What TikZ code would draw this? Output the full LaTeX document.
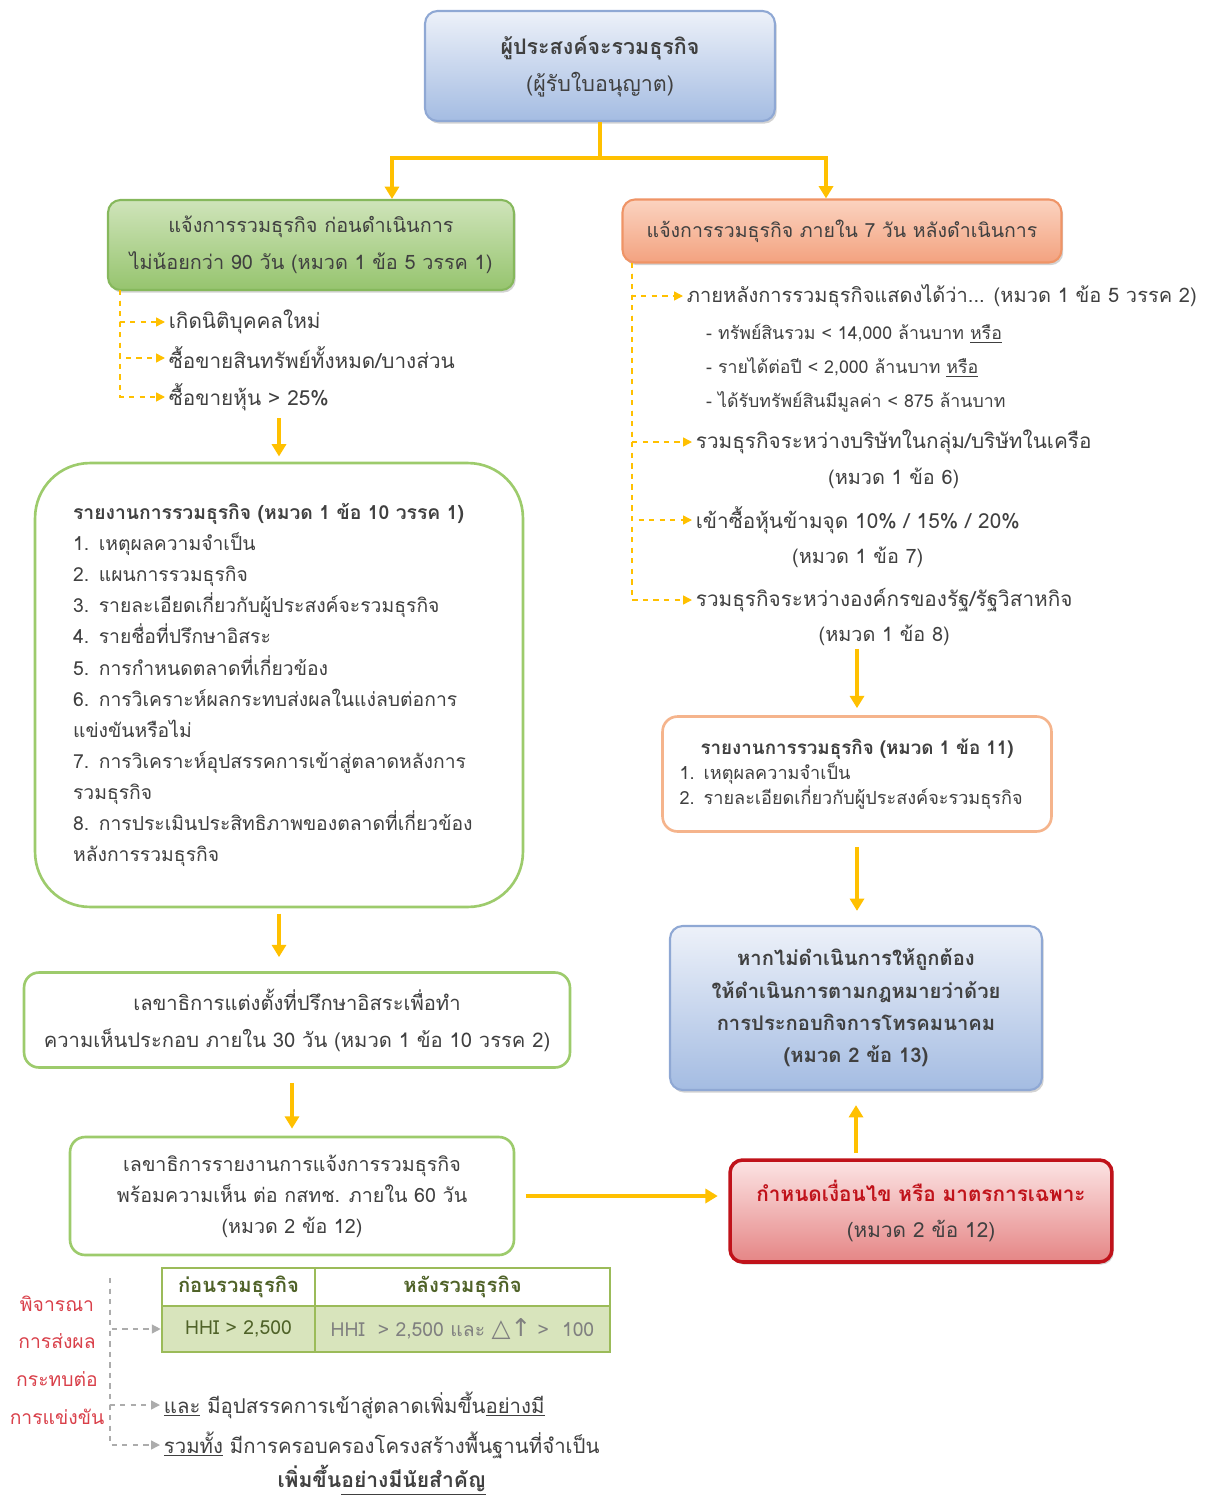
\documentclass[tikz,border=0pt]{standalone}
\usepackage{fontspec}
\setmainfont[Script=Thai]{Loma}
\newfontfamily\symfont{DejaVu Sans}
\usetikzlibrary{arrows.meta,shadows,calc}

\begin{document}
\begin{tikzpicture}[x=0.02cm,y=-0.02cm,
  every node/.style={text=txt,font=\fontsize{11.3}{18}\selectfont},
  flow/.style={draw=gold,line width=2.2pt,-{Triangle[length=7pt,width=8pt]}},
  dasharrow/.style={draw=gold,line width=0.8pt,dashed,-{Triangle[length=5pt,width=5pt]}},
  grayarrow/.style={dasharrow,draw=gray!65},
  shadedbox/.style={rounded corners=0.25cm,line width=1.2pt,align=center,
    drop shadow={shadow xshift=1pt,shadow yshift=-1.5pt,opacity=.35}},
  outlinebox/.style={rounded corners=0.3cm,draw=lgreen,line width=1.5pt,fill=white,align=center},
  item/.style={anchor=west,inner sep=2pt,font=\fontsize{11.8}{18}\selectfont},
  cell/.style={draw=tline,line width=1.5pt,inner sep=0pt,font=\fontsize{11}{13}\selectfont}]
 \definecolor{txt}{HTML}{404040}
 \definecolor{gold}{HTML}{FFC000}
 \definecolor{btop}{HTML}{EDF1F9}
 \definecolor{bbot}{HTML}{A4BCE2}
 \definecolor{bline}{HTML}{8FA8D4}
 \definecolor{gtop}{HTML}{CFE4BA}
 \definecolor{gbot}{HTML}{96C46E}
 \definecolor{gline}{HTML}{86B85C}
 \definecolor{otop}{HTML}{FBD3C0}
 \definecolor{obot}{HTML}{F3A27F}
 \definecolor{oline}{HTML}{EF9466}
 \definecolor{rtop}{HTML}{FCE4E4}
 \definecolor{rbot}{HTML}{E58585}
 \definecolor{rline}{HTML}{C0121A}
 \definecolor{lgreen}{HTML}{9DCB6C}
 \definecolor{lorange}{HTML}{F5B48C}
 \definecolor{tfill}{HTML}{D8E4BC}
 \definecolor{tline}{HTML}{9BBB59}
 \definecolor{tgreen}{HTML}{4F6228}
 \definecolor{redtxt}{HTML}{D9404A}
 \useasboundingbox (0,0) rectangle (1211,1497);

 \node[shadedbox,draw=bline,top color=btop,bottom color=bbot,minimum width=7cm,
   minimum height=2.2cm,font=\fontsize{12.2}{21}\selectfont] (top) at (600,66)
   {\textbf{ผู้ประสงค์จะรวมธุรกิจ}\\(ผู้รับใบอนุญาต)};
 \node[shadedbox,draw=gline,top color=gtop,bottom color=gbot,minimum width=8.12cm,
   minimum height=1.8cm,font=\fontsize{11.3}{21}\selectfont] (pre) at (311,245)
   {แจ้งการรวมธุรกิจ ก่อนดำเนินการ\\ไม่น้อยกว่า 90 วัน (หมวด 1 ข้อ 5 วรรค 1)};
 \node[shadedbox,draw=oline,top color=otop,bottom color=obot,minimum width=8.78cm,
   minimum height=1.26cm,font=\fontsize{11.1}{18}\selectfont] (post) at (842,231)
   {แจ้งการรวมธุรกิจ ภายใน 7 วัน หลังดำเนินการ};
 \coordinate (split) at ($(top.south)+(0,36)$);
 \draw[flow,-] (top.south) -- (split);
 \draw[flow] (split) -| ([xshift=1.62cm]pre.north);
 \draw[flow] (split) -| ([xshift=-0.32cm]post.north);

 \coordinate (lb) at (120,290);
 \foreach \n/\yy/\txt in {1/322/{เกิดนิติบุคคลใหม่},
   2/358/{ซื้อขายสินทรัพย์ทั้งหมด/บางส่วน}, 3/397/{ซื้อขายหุ้น > 25\%}} {
   \node[item] (l\n) at (165,\yy) {\txt};
   \draw[dasharrow] (lb) |- (l\n.west);
 }

 \node[outlinebox,rounded corners=1.1cm,minimum width=9.76cm,minimum height=8.88cm,
   text width=8.24cm,align=left,font=\fontsize{11}{17.7}\selectfont] (rep1) at (279,685)
   {\textbf{รายงานการรวมธุรกิจ (หมวด 1 ข้อ 10 วรรค 1)}\\
    1. เหตุผลความจำเป็น\\
    2. แผนการรวมธุรกิจ\\
    3. รายละเอียดเกี่ยวกับผู้ประสงค์จะรวมธุรกิจ\\
    4. รายชื่อที่ปรึกษาอิสระ\\
    5. การกำหนดตลาดที่เกี่ยวข้อง\\
    6. การวิเคราะห์ผลกระทบส่งผลในแง่ลบต่อการ\\แข่งขันหรือไม่\\
    7. การวิเคราะห์อุปสรรคการเข้าสู่ตลาดหลังการ\\รวมธุรกิจ\\
    8. การประเมินประสิทธิภาพของตลาดที่เกี่ยวข้อง\\หลังการรวมธุรกิจ};
 \node[outlinebox,minimum width=10.92cm,minimum height=1.9cm,
   font=\fontsize{11.5}{21}\selectfont] (consult) at (297,1020)
   {เลขาธิการแต่งตั้งที่ปรึกษาอิสระเพื่อทำ\\ความเห็นประกอบ ภายใน 30 วัน (หมวด 1 ข้อ 10 วรรค 2)};
 \node[outlinebox,minimum width=8.88cm,minimum height=2.36cm,
   font=\fontsize{11.2}{17.6}\selectfont] (secrep) at (292,1196)
   {เลขาธิการรายงานการแจ้งการรวมธุรกิจ\\พร้อมความเห็น ต่อ กสทช. ภายใน 60 วัน\\(หมวด 2 ข้อ 12)};
 \draw[flow,shorten <=2pt,shorten >=3pt] (l3.south -| rep1.north) -- (rep1.north);
 \draw[flow,shorten <=3pt,shorten >=8pt] (rep1.south) -- (rep1.south |- consult.north);
 \draw[flow,shorten <=8pt,shorten >=4pt] (consult.south -| secrep.north) -- (secrep.north);

 \coordinate (rb) at (632,263);
 \node[item,font=\fontsize{11.4}{18}\selectfont] (r1) at (683,296)
   {ภายหลังการรวมธุรกิจแสดงได้ว่า... (หมวด 1 ข้อ 5 วรรค 2)};
 \node[anchor=north west,align=left,font=\fontsize{10.1}{19.3}\selectfont] (r1s) at (700,318)
   {- ทรัพย์สินรวม < 14,000 ล้านบาท \underline{หรือ}\\
    - รายได้ต่อปี < 2,000 ล้านบาท \underline{หรือ}\\
    - ได้รับทรัพย์สินมีมูลค่า < 875 ล้านบาท};
 \node[item,label={[name=r2b,label distance=2pt]below:(หมวด 1 ข้อ 6)}] (r2) at (692,442)
   {รวมธุรกิจระหว่างบริษัทในกลุ่ม/บริษัทในเครือ};
 \node[item,label={[name=r3b,label distance=2pt]below:(หมวด 1 ข้อ 7)}] (r3) at (692,520)
   {เข้าซื้อหุ้นข้ามจุด 10\% / 15\% / 20\%};
 \node[item,label={[name=r4b,label distance=2pt]below:(หมวด 1 ข้อ 8)}] (r4) at (692,600)
   {รวมธุรกิจระหว่างองค์กรของรัฐ/รัฐวิสาหกิจ};
 \foreach \n in {1,...,4}
   \draw[dasharrow] (rb) |- (r\n.west);

 \node[outlinebox,draw=lorange,minimum width=7.78cm,minimum height=2.3cm,text width=7.1cm,
   align=left,font=\fontsize{10.3}{14}\selectfont] (rep2) at (857,774)
   {\makebox[\linewidth]{\textbf{\fontsize{10.7}{14}\selectfont รายงานการรวมธุรกิจ (หมวด 1 ข้อ 11)}}\\
    1. เหตุผลความจำเป็น\\
    2. รายละเอียดเกี่ยวกับผู้ประสงค์จะรวมธุรกิจ};
 \node[shadedbox,draw=bline,top color=btop,bottom color=bbot,minimum width=7.44cm,
   minimum height=3.28cm,font=\bfseries\fontsize{11.5}{18.4}\selectfont] (law) at (856,1008)
   {หากไม่ดำเนินการให้ถูกต้อง\\ให้ดำเนินการตามกฎหมายว่าด้วย\\การประกอบกิจการโทรคมนาคม\\(หมวด 2 ข้อ 13)};
 \node[shadedbox,draw=rline,line width=2pt,top color=rtop,bottom color=rbot,
   minimum width=7.64cm,minimum height=2.04cm,font=\fontsize{11.8}{21}\selectfont] (cond) at (921,1211)
   {\textcolor{rline}{\textbf{กำหนดเงื่อนไข หรือ มาตรการเฉพาะ}}\\(หมวด 2 ข้อ 12)};
 \draw[flow,shorten <=-2pt,shorten >=4pt] (r4b.south -| rep2.north) -- (rep2.north);
 \draw[flow,shorten <=8pt,shorten >=8pt] (rep2.south) -- (rep2.south |- law.north);
 \draw[flow,shorten <=3pt,shorten >=8pt] (cond.north -| law.south) -- (law.south);
 \draw[flow,shorten <=6pt,shorten >=6pt] (secrep.east) -- (secrep.east -| cond.west);

 \node[text=redtxt,align=center,font=\fontsize{11}{21.5}\selectfont] (cons) at (57,1360)
   {พิจารณา\\การส่งผล\\กระทบต่อ\\การแข่งขัน};
 \node[cell,fill=white,minimum width=3.06cm,minimum height=0.76cm,text=tgreen,
   font=\bfseries\fontsize{11.5}{13}\selectfont] (th1) at (238.5,1287) {ก่อนรวมธุรกิจ};
 \node[cell,fill=white,minimum width=5.9cm,minimum height=0.76cm,text=tgreen,
   font=\bfseries\fontsize{11.5}{13}\selectfont] (th2) at (462.5,1287) {หลังรวมธุรกิจ};
 \node[cell,fill=tfill,minimum width=3.06cm,minimum height=0.92cm,text=tgreen] (td1) at (238.5,1329)
   {HHI > 2,500};
 \node[cell,fill=tfill,minimum width=5.9cm,minimum height=0.92cm,text=gray] (td2) at (462.5,1329)
   {HHI \ > 2,500 และ {\symfont\fontsize{14}{14}\selectfont △↑} > \ 100};
 \coordinate (gb) at (110,1278);
 \node[item,font=\fontsize{11.6}{18}\selectfont] (b1) at (160,1405)
   {\underline{และ} มีอุปสรรคการเข้าสู่ตลาดเพิ่มขึ้น\underline{อย่างมี}};
 \node[item,font=\fontsize{11.6}{18}\selectfont,
   label={[font=\bfseries\fontsize{12}{18}\selectfont,label distance=-2pt]below:เพิ่มขึ้น\underline{อย่างมีนัยสำคัญ}}]
   (b2) at (160,1445) {\underline{รวมทั้ง} มีการครอบครองโครงสร้างพื้นฐานที่จำเป็น};
 \foreach \n in {td1,b1,b2}
   \draw[grayarrow] (gb) |- (\n.west);
\end{tikzpicture}
\end{document}
